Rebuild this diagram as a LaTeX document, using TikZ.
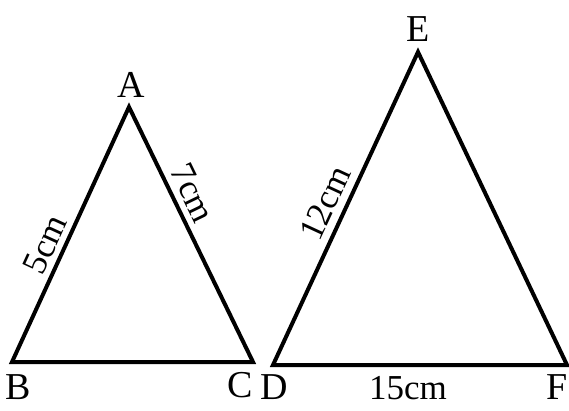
\documentclass[tikz,border=0pt]{standalone}
\usepackage{fontspec}
\setmainfont{Liberation Serif}
\usepackage{tikz}
\usetikzlibrary{positioning}

\begin{document}
\begin{tikzpicture}[x=1pt, y=1pt,
  tri/.style={draw, line width=4pt, line join=miter},
  v/.style={inner sep=0pt, font=\fontsize{38}{40}\selectfont},
  meas/.style={inner sep=0pt, sloped, font=\fontsize{35}{37}\selectfont}]
  \useasboundingbox (0,0) rectangle (569,-411);
  % first triangle
  \coordinate (A) at (129,-107);
  \coordinate (B) at (12,-362);
  \coordinate (C) at (253,-362);
  % second triangle
  \coordinate (D) at (273,-365);
  \coordinate (E) at (418,-52);
  \coordinate (F) at (567,-365);
  \draw[tri] (A) -- (B) -- (C) -- cycle;
  \draw[tri] (D) -- (E) -- (F) -- cycle;
  \path (B) -- node[meas, pos=0.43, above=7pt] {5cm} (A);
  \path (A) -- node[meas, pos=0.37, above=8pt] {7cm} (C);
  \path (D) -- node[meas, pos=0.49, above=9pt] {12cm} (E);
  \node[v] (lA) at (131,-85) {A};
  \node[v] (lB) at (18,-387) {B};
  \node[v] (lC) at (240,-385) {C};
  \node[v] (lD) at (274,-387) {D};
  \node[v] (lE) at (418,-29) {E};
  \node[v] (lF) at (557,-387) {F};
  \node[inner sep=0pt, font=\fontsize{35}{37}\selectfont] (l15) at (408,-388) {15cm};
\end{tikzpicture}
\end{document}
